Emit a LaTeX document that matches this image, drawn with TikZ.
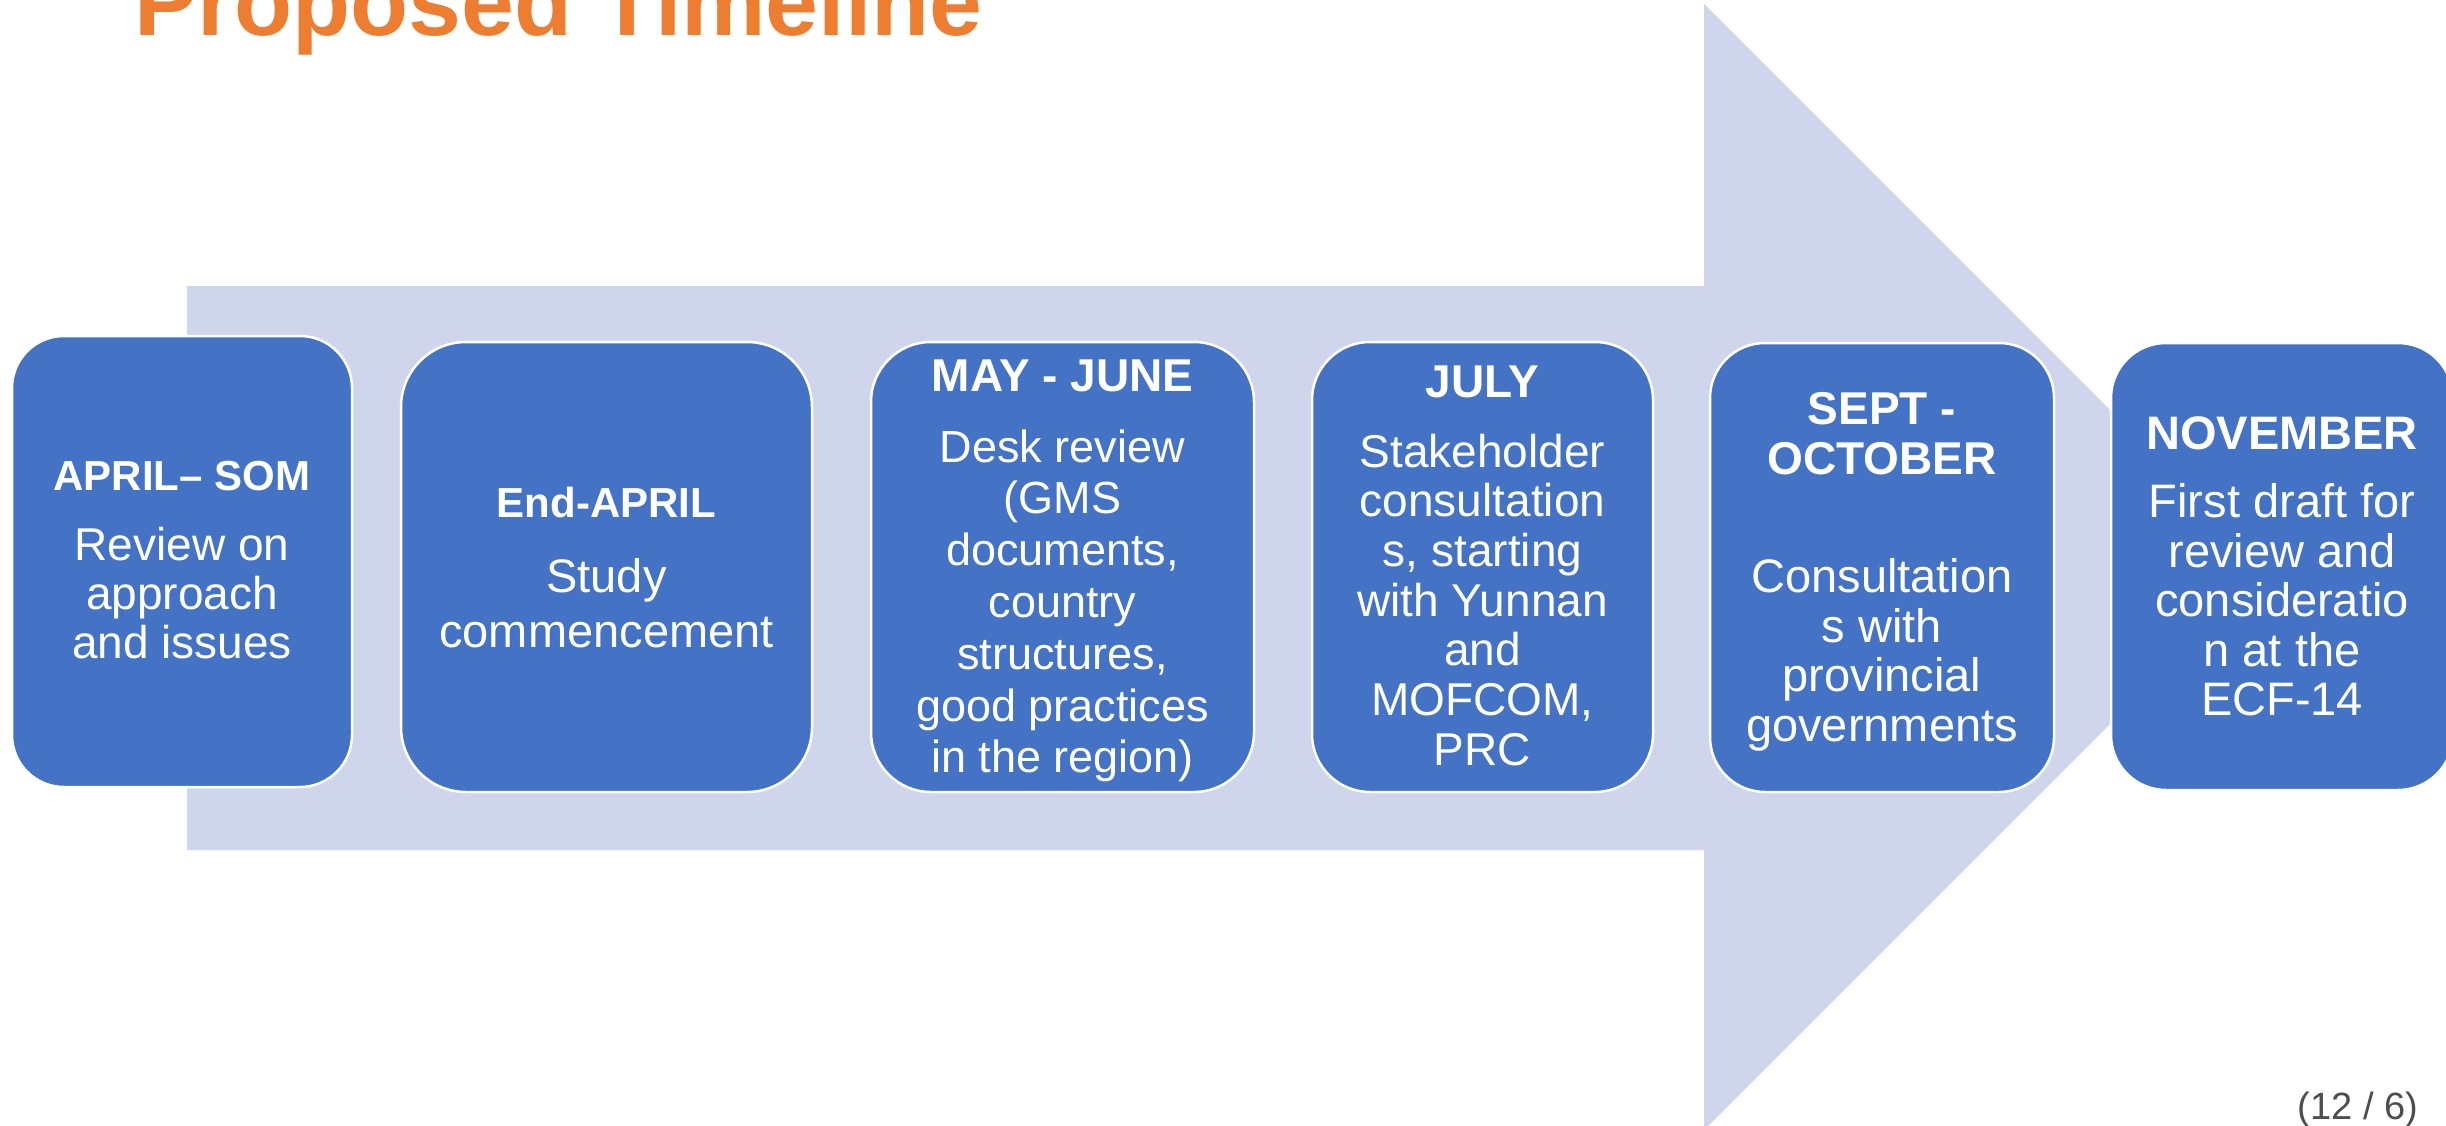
\documentclass[tikz,border=0pt]{standalone}
\usepackage{fontspec}
\setmainfont{Liberation Sans}
\definecolor{boxblue}{HTML}{4472C4}
\definecolor{arrowfill}{HTML}{CFD5EA}
\definecolor{titleorange}{HTML}{ED7D31}
\definecolor{pagegray}{HTML}{4D4D4D}
\newcommand{\fs}[2]{\fontsize{#1}{#2}\selectfont}
\tikzset{
  phase/.style={draw=white, line width=2.5pt, fill=boxblue, rounded corners=58pt,
    inner sep=0pt, outer sep=0pt},
  headtext/.style={text=white, align=center, inner sep=0pt, anchor=base},
  bodytext/.style={text=white, align=center, inner sep=0pt, anchor=north},
}
\begin{document}
\begin{tikzpicture}[x=1pt,y=-1pt]
  \useasboundingbox (0,0) rectangle (2446,1126);
  \fill[white] (0,0) rectangle (2446,1126);

  % title
  \node[anchor=base west, inner sep=0pt, text=titleorange, font=\fs{95}{100}\bfseries]
    (title) at (134,36) {Proposed Timeline};

  % background arrow
  \fill[arrowfill] (187,286) -- (1704,286) -- (1704,4) -- (2267,567)
    -- (1704,1130) -- (1704,850) -- (187,850) -- cycle;

  % phase boxes
  \node[phase, rounded corners=52pt, minimum width=340pt, minimum height=451pt] (b1) at (182,561.5) {};
  \node[phase, rounded corners=65pt, minimum width=411pt, minimum height=450pt] (b2) at (606.5,567) {};
  \node[phase, rounded corners=60pt, minimum width=383pt, minimum height=450pt] (b3) at (1062.5,567) {};
  \node[phase, minimum width=341pt, minimum height=450pt] (b4) at (1482.5,567) {};
  \node[phase, rounded corners=55pt, minimum width=344pt, minimum height=449pt] (b5) at (1882,567.5) {};
  \node[phase, rounded corners=55pt, minimum width=342pt, minimum height=447pt] (b6) at (2282,566.5) {};

  % box 1
  \node[headtext, font=\fs{42}{48}\bfseries] (h1) at (182,490) {APRIL– SOM};
  \node[bodytext, font=\fs{46}{49}] (t1) at (182,525.7)
    {\strut Review on\\approach\\and issues};

  % box 2
  \node[headtext, font=\fs{42}{48}\bfseries] (h2) at (606.5,517) {End-APRIL};
  \node[bodytext, font=\fs{47}{55}] (t2) at (606.5,553.5)
    {\strut Study\\commencement};

  % box 3
  \node[headtext, font=\fs{46}{50}\bfseries] (h3) at (1062.5,391) {MAY - JUNE};
  \node[bodytext, font=\fs{45}{51.8}] (t3) at (1062.5,425.7)
    {\strut Desk review\\(GMS\\documents,\\country\\structures,\\good practices\\in the region)};

  % box 4
  \node[headtext, font=\fs{46}{50}\bfseries] (h4) at (1482.5,397) {JULY};
  \node[bodytext, font=\fs{46}{49.7}] (t4) at (1482.5,432.2)
    {\strut Stakeholder\\consultation\\s, starting\\with Yunnan\\and\\MOFCOM,\\PRC};

  % box 5
  \node[bodytext, font=\fs{46}{50}\bfseries] (h5) at (1882,389)
    {\strut SEPT -\\OCTOBER};
  \node[bodytext, font=\fs{47}{49.5}] (t5) at (1882,557.9)
    {\strut Consultation\\s with\\provincial\\governments};

  % box 6
  \node[headtext, font=\fs{47}{50}\bfseries] (h6) at (2282,449.5) {NOVEMBER};
  \node[bodytext, font=\fs{47}{49.5}] (t6) at (2282,482.9)
    {\strut First draft for\\review and\\consideratio\\n at the\\ECF-14};

  % page counter
  \node[anchor=base, inner sep=0pt, text=pagegray, font=\fs{38}{40}]
    (pg) at (2358,1119) {(12 / 6)};
\end{tikzpicture}
\end{document}
